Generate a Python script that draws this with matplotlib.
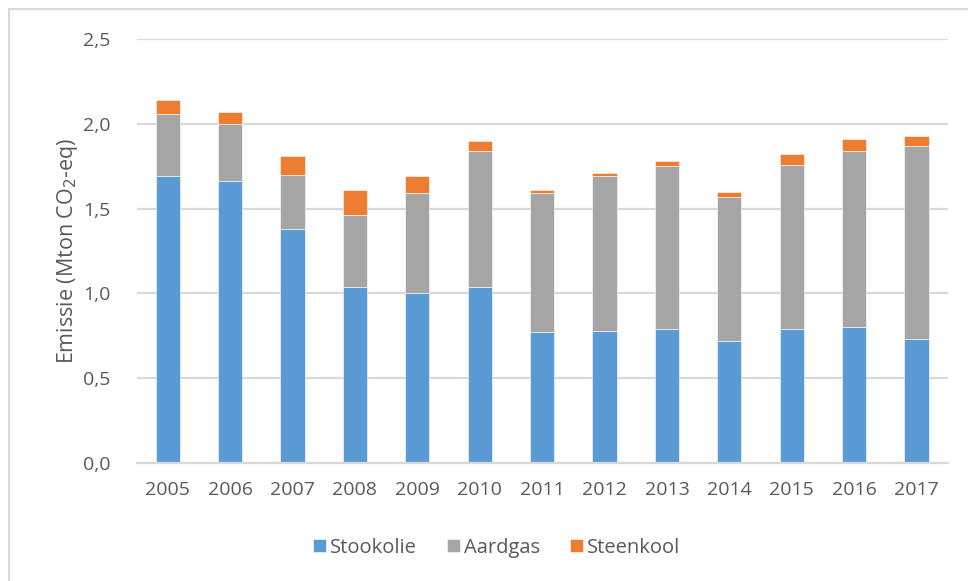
import matplotlib
matplotlib.use("Agg")
import matplotlib.pyplot as plt
from matplotlib.lines import Line2D
import numpy as np

years = ["2005", "2006", "2007", "2008", "2009", "2010", "2011", "2012", "2013", "2014", "2015", "2016", "2017"]
stookolie = [1.69, 1.66, 1.38, 1.04, 1.00, 1.04, 0.77, 0.78, 0.79, 0.72, 0.79, 0.80, 0.73]
aardgas = [0.37, 0.34, 0.32, 0.42, 0.59, 0.80, 0.82, 0.91, 0.96, 0.85, 0.97, 1.04, 1.14]
steenkool = [0.08, 0.07, 0.11, 0.15, 0.10, 0.06, 0.02, 0.02, 0.03, 0.03, 0.06, 0.07, 0.06]
series_names = ["Stookolie", "Aardgas", "Steenkool"]
colors = ["#5b9bd5", "#a5a5a5", "#ed7d31"]
yticks = [0.0, 0.5, 1.0, 1.5, 2.0, 2.5]

plt.rcParams['font.family'] = ['Open Sans', 'DejaVu Sans']
W, H = 968, 581
fig = plt.figure(figsize=(W / 100, H / 100), dpi=100)
ax = fig.add_axes([136.5 / W, 1 - 463 / H, (947.7 - 136.5) / W, (463 - 39) / H])

x = np.arange(len(years))
bottom = np.zeros(len(years))
for name, vals, c in zip(series_names, [stookolie, aardgas, steenkool], colors):
    ax.bar(x, vals, 0.39, bottom=bottom, color=c, label=name, zorder=3,
           edgecolor="white", linewidth=0.4)
    bottom = bottom + np.array(vals)

ax.set_xlim(-0.5, len(years) - 0.5)
ax.set_ylim(0, 2.5)
ax.set_yticks(yticks)
ax.set_yticklabels([f"{v:.1f}".replace(".", ",") for v in yticks])
ax.set_xticks(x)
ax.set_xticklabels(years)
ax.grid(axis="y", color="#d9d9d9", linewidth=1.6, zorder=0)
for s in ["top", "right", "left"]:
    ax.spines[s].set_visible(False)
ax.spines["bottom"].set_color("#d9d9d9")
ax.spines["bottom"].set_linewidth(1.6)
ax.spines["bottom"].set_zorder(4)
ax.tick_params(axis="both", length=0, colors="#595959", labelsize=14)
ax.tick_params(axis="y", pad=19)
ax.tick_params(axis="x", pad=13)
ax.set_ylabel("Emissie (Mton CO$_2$-eq)", color="#595959", fontsize=15.5, labelpad=2)

ax.legend(loc="center", bbox_to_anchor=(0.444, -0.2), ncol=3, frameon=False,
          fontsize=14.5, labelcolor="#595959", handlelength=0.65, handleheight=0.65,
          handletextpad=0.2, columnspacing=1.5)

# chart border (top & left visible)
fig.add_artist(Line2D([9 / W, 1.0], [1 - 8.5 / H, 1 - 8.5 / H], color="#d9d9d9", linewidth=1.5))
fig.add_artist(Line2D([9 / W, 9 / W], [0, 1 - 8.5 / H], color="#d9d9d9", linewidth=1.5))

fig.savefig("out.png", dpi=100)
